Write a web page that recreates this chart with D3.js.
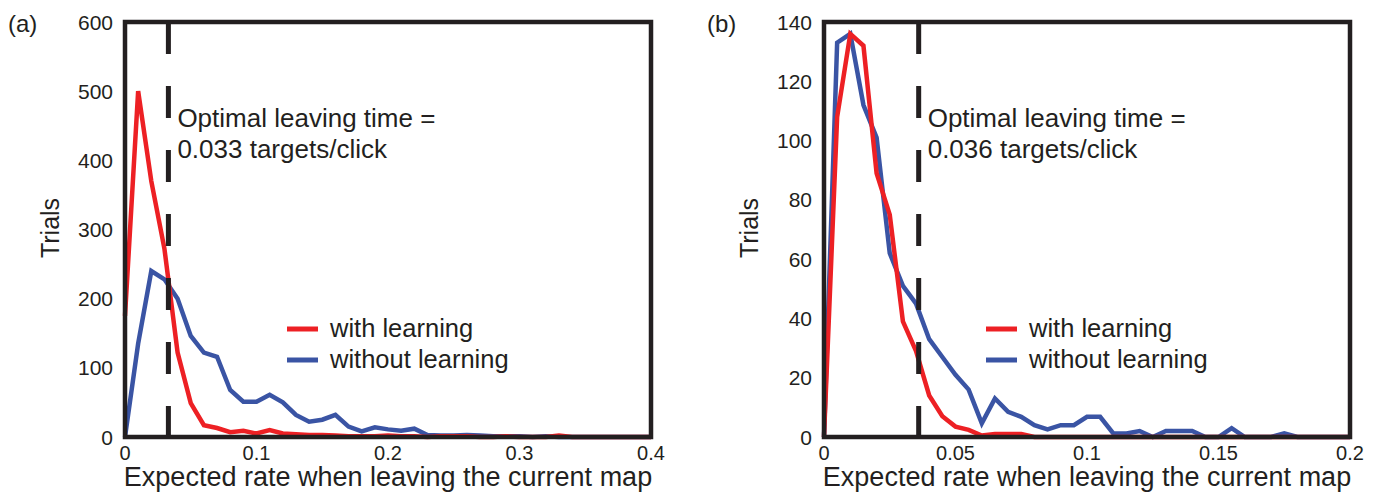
<!DOCTYPE html>
<html>
<head>
<meta charset="utf-8">
<script src="https://cdnjs.cloudflare.com/ajax/libs/d3/7.8.5/d3.min.js"></script>
<style>
  html, body { margin: 0; padding: 0; background: #fff; }
  text { font-family: "Liberation Sans", Arial, sans-serif; fill: #231f20; }
</style>
</head>
<body>
<div id="chart"></div>
<script>
// panel (a): bins every 0.01 from 0 to 0.4
const binsA = d3.range(41).map(function (i) { return i / 100; });
const withLearningA = [175, 500, 370, 272, 122, 49, 17, 13, 7, 9, 5, 10, 5, 4, 3, 3, 2, 1, 1, 1, 2, 1, 1, 0, 1, 1, 1, 0, 0, 1, 0, 0, 0, 2, 0, 0, 0, 0, 0, 0, 0];
const withoutLearningA = [0, 135, 240, 228, 200, 146, 122, 116, 68, 51, 51, 61, 50, 32, 22, 25, 32, 15, 8, 14, 11, 9, 12, 3, 2, 2, 3, 2, 1, 1, 1, 0, 1, 0, 0, 0, 0, 0, 0, 0, 0];
const xTicksA = [0, 0.1, 0.2, 0.3, 0.4];
const yTicksA = [0, 100, 200, 300, 400, 500, 600];
const optimalA = 0.033;

// panel (b): bins every 0.005 from 0 to 0.2
const binsB = d3.range(41).map(function (i) { return i / 200; });
const withLearningB = [0, 108, 136, 132, 89, 75, 39, 29, 14, 7, 3.5, 2.4, 0.5, 1, 1, 1, 0, 0, 0, 0, 0, 0, 0, 0, 0, 0, 0, 0, 0, 0, 0, 0, 0, 0, 0, 0, 0, 0, 0, 0, 0];
const withoutLearningB = [0, 133, 136, 112, 101, 62, 51, 45, 33, 27, 21, 16, 4.6, 13, 8.5, 6.8, 4, 2.6, 4, 4, 6.8, 6.8, 1.2, 1.2, 2, 0, 2, 2, 2, 0, 0, 3, 0, 0, 0, 1.2, 0, 0, 0, 0, 0];
const xTicksB = [0, 0.05, 0.1, 0.15, 0.2];
const yTicksB = [0, 20, 40, 60, 80, 100, 120, 140];
const optimalB = 0.036;

const redColor = '#ed2024';
const blueColor = '#3a54a4';
const inkColor = '#231f20';

const svg = d3.select('#chart')
  .append('svg')
  .attr('width', 1375)
  .attr('height', 502);

svg.append('rect')
  .attr('width', 1375)
  .attr('height', 502)
  .attr('fill', '#fff');

function drawPanel(opts) {
  const x = d3.scaleLinear().domain(opts.xDomain).range([opts.left, opts.left + 526]);
  const y = d3.scaleLinear().domain(opts.yDomain).range([437, 22]);

  const g = svg.append('g');

  const line = d3.line()
    .x(function (d) { return x(d[0]); })
    .y(function (d) { return y(d[1]); });

  // without learning first, red drawn on top
  [[opts.without, blueColor], [opts.withL, redColor]].forEach(function (s) {
    g.append('path')
      .datum(opts.bins.map(function (b, i) { return [b, s[0][i]]; }))
      .attr('fill', 'none')
      .attr('stroke', s[1])
      .attr('stroke-width', 4.5)
      .attr('d', line);
  });

  // optimal leaving time
  const ox = x(opts.optimal);
  g.append('line')
    .attr('x1', ox).attr('x2', ox)
    .attr('y1', y(opts.yDomain[1])).attr('y2', y(0))
    .attr('stroke', inkColor)
    .attr('stroke-width', 5)
    .attr('stroke-dasharray', '32,32');

  g.append('text')
    .text('Optimal leaving time =')
    .attr('x', ox + 9)
    .attr('y', 127)
    .style('font-size', '26px');

  g.append('text')
    .text(opts.optimal.toFixed(3) + ' targets/click')
    .attr('x', ox + 9)
    .attr('y', 158)
    .style('font-size', '26px');

  // frame
  g.append('rect')
    .attr('x', x(opts.xDomain[0]))
    .attr('y', y(opts.yDomain[1]))
    .attr('width', x(opts.xDomain[1]) - x(opts.xDomain[0]))
    .attr('height', y(0) - y(opts.yDomain[1]))
    .attr('fill', 'none')
    .attr('stroke', inkColor)
    .attr('stroke-width', 4.5);

  // tick labels
  g.selectAll('text.ytick')
    .data(opts.yTicks)
    .enter()
    .append('text')
    .attr('class', 'ytick')
    .attr('x', opts.left - 12)
    .attr('y', function (d) { return y(d); })
    .attr('dy', '0.36em')
    .style('text-anchor', 'end')
    .style('font-size', '21px')
    .text(function (d) { return d; });

  g.selectAll('text.xtick')
    .data(opts.xTicks)
    .enter()
    .append('text')
    .attr('class', 'xtick')
    .attr('x', function (d) { return x(d); })
    .attr('y', 460)
    .style('text-anchor', 'middle')
    .style('font-size', '20px')
    .text(function (d) { return d; });

  g.append('text')
    .text('Expected rate when leaving the current map')
    .attr('x', opts.left + 263)
    .attr('y', 486)
    .style('text-anchor', 'middle')
    .style('font-size', '27px');

  g.append('text')
    .text('Trials')
    .attr('transform', 'translate(' + (opts.left - 66) + ',' + 228 + ') rotate(-90)')
    .style('text-anchor', 'middle')
    .style('font-size', '25px');

  g.append('text')
    .text(opts.label)
    .attr('x', opts.left - 117)
    .attr('y', 32)
    .style('font-size', '24px');

  // legend
  const legend = g.append('g')
    .attr('transform', 'translate(' + (opts.left + 162) + ', 329)');

  [['with learning', redColor], ['without learning', blueColor]].forEach(function (d, i) {
    legend.append('line')
      .attr('x1', 0).attr('x2', 31)
      .attr('y1', i * 31).attr('y2', i * 31)
      .attr('stroke', d[1])
      .attr('stroke-width', 5);
    legend.append('text')
      .text(d[0])
      .attr('x', 43)
      .attr('y', i * 31 + 8)
      .style('font-size', '25.5px');
  });
}

drawPanel({
  left: 125,
  label: '(a)',
  bins: binsA,
  withL: withLearningA,
  without: withoutLearningA,
  xDomain: [0, 0.4],
  yDomain: [0, 600],
  xTicks: xTicksA,
  yTicks: yTicksA,
  optimal: optimalA
});

drawPanel({
  left: 824,
  label: '(b)',
  bins: binsB,
  withL: withLearningB,
  without: withoutLearningB,
  xDomain: [0, 0.2],
  yDomain: [0, 140],
  xTicks: xTicksB,
  yTicks: yTicksB,
  optimal: optimalB
});
</script>
</body>
</html>
